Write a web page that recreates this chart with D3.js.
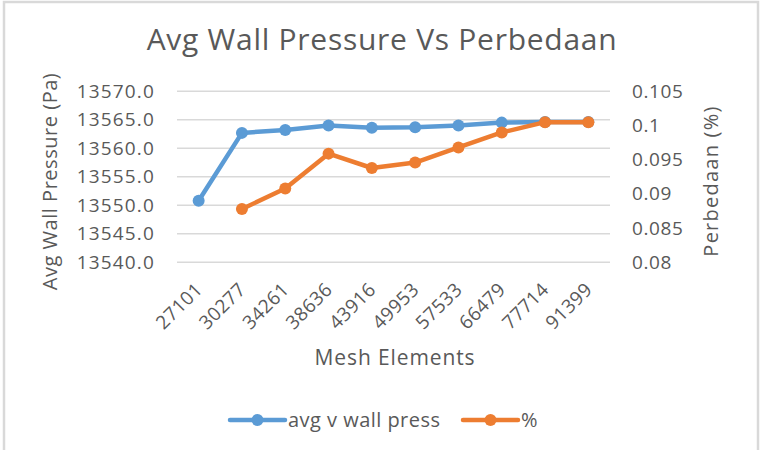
<!DOCTYPE html>
<html>
<head>
<meta charset="utf-8">
<script src="https://cdn.jsdelivr.net/npm/d3@7"></script>
<style>
  html, body { margin: 0; padding: 0; background: #fff; }
  svg { display: block; font-family: "Open Sans", "Noto Sans", sans-serif; }
</style>
</head>
<body>
<svg id="chart" width="763" height="450"></svg>
<script>
// Mesh refinement study: averaged wall pressure and relative difference
const categories = ["27101", "30277", "34261", "38636", "43916", "49953", "57533", "66479", "77714", "91399"];
const pressure = [13550.7, 13562.6, 13563.1, 13563.9, 13563.5, 13563.6, 13563.9, 13564.4, 13564.5, 13564.5];
const perbedaan = [null, 0.0877, 0.0907, 0.0958, 0.0937, 0.0945, 0.0967, 0.0989, 0.1004, 0.1004];
const leftTicks = [13540, 13545, 13550, 13555, 13560, 13565, 13570];
const rightTicks = [0.08, 0.085, 0.09, 0.095, 0.1, 0.105];
const seriesNames = ["avg v wall press", "%"];

const colors = { blue: "#5B9BD5", orange: "#ED7D31", text: "#595959", grid: "#d9d9d9" };
const FONT = '"Open Sans", "Noto Sans", sans-serif';

const svg = d3.select("#chart");
const plot = { left: 177, right: 610, top: 90.7, bottom: 261.7 };

// outer chart frame
svg.append("rect")
  .attr("x", 4).attr("y", 2).attr("width", 754).attr("height", 470)
  .attr("fill", "#fff").attr("stroke", colors.grid).attr("stroke-width", 2.5);

const x = d3.scaleBand().domain(categories).range([plot.left, plot.right]).padding(0);
const yL = d3.scaleLinear().domain([13540, 13570]).range([plot.bottom, plot.top]);
const yR = d3.scaleLinear().domain([0.08, 0.105]).range([plot.bottom, plot.top]);
const cx = c => x(c) + x.bandwidth() / 2;

// helper: stretch letter spacing so a label spans a given width
function fitWidth(sel, target) {
  sel.each(function () {
    const t = d3.select(this);
    const n = t.text().length;
    const w = this.getComputedTextLength();
    if (n > 1) t.attr("letter-spacing", ((target - w) / (n - 1)).toFixed(2) + "px");
  });
}

// title
svg.append("text")
  .attr("x", 382).attr("y", 50).attr("text-anchor", "middle")
  .attr("font-size", 30).attr("fill", colors.text)
  .text("Avg Wall Pressure Vs Perbedaan")
  .call(fitWidth, 470);

// horizontal gridlines (left axis)
const gridAxis = d3.axisLeft(yL).tickValues(leftTicks).tickSize(-(plot.right - plot.left)).tickFormat("");
const gridG = svg.append("g").attr("transform", `translate(${plot.left},0)`).call(gridAxis);
gridG.select(".domain").remove();
gridG.selectAll("line").attr("stroke", colors.grid).attr("stroke-width", 1.5);

// left axis labels
const leftAxis = d3.axisLeft(yL).tickValues(leftTicks).tickSize(0).tickPadding(22).tickFormat(d3.format(".1f"));
const lg = svg.append("g").attr("transform", `translate(${plot.left},0)`).call(leftAxis)
  .attr("font-family", FONT).attr("font-size", 19);
lg.select(".domain").remove();
lg.selectAll("text").attr("fill", colors.text).attr("dy", "0.35em").call(fitWidth, 77);

// right axis labels
const rightAxis = d3.axisRight(yR).tickValues(rightTicks).tickSize(0).tickPadding(22).tickFormat(d => String(d));
const rg = svg.append("g").attr("transform", `translate(${plot.right},0)`).call(rightAxis)
  .attr("font-family", FONT).attr("font-size", 19);
rg.select(".domain").remove();
rg.selectAll("text").attr("fill", colors.text).attr("dy", "0.35em").attr("letter-spacing", "0.6px");

// category axis labels, rotated
const bottomAxis = d3.axisBottom(x).tickSize(0).tickPadding(0);
const bg = svg.append("g").attr("transform", `translate(0,${plot.bottom})`).call(bottomAxis)
  .attr("font-family", FONT).attr("font-size", 19);
bg.select(".domain").remove();
bg.selectAll("text")
  .attr("fill", colors.text)
  .attr("text-anchor", "end").attr("dy", null).attr("y", 0)
  .attr("letter-spacing", "0.4px")
  .attr("transform", "translate(5,29) rotate(-45)");

// axis titles
svg.append("text")
  .attr("transform", `translate(57,181.5) rotate(-90)`)
  .attr("text-anchor", "middle").attr("font-size", 20).attr("fill", colors.text)
  .text("Avg Wall Pressure (Pa)")
  .call(fitWidth, 217);
svg.append("text")
  .attr("transform", `translate(718,181) rotate(-90)`)
  .attr("text-anchor", "middle").attr("font-size", 20).attr("fill", colors.text)
  .text("Perbedaan (%)")
  .call(fitWidth, 150);
svg.append("text")
  .attr("x", 395).attr("y", 365).attr("text-anchor", "middle")
  .attr("font-size", 21).attr("fill", colors.text)
  .text("Mesh Elements")
  .call(fitWidth, 160);

// series
const series = [
  { name: seriesNames[0], values: pressure, y: yL, color: colors.blue },
  { name: seriesNames[1], values: perbedaan, y: yR, color: colors.orange }
];

series.forEach(s => {
  const pts = categories.map((c, i) => ({ c, v: s.values[i] })).filter(d => d.v != null);
  const line = d3.line().x(d => cx(d.c)).y(d => s.y(d.v));
  const g = svg.append("g");
  g.append("path").datum(pts).attr("d", line)
    .attr("fill", "none").attr("stroke", s.color).attr("stroke-width", 4.5)
    .attr("stroke-linejoin", "round").attr("stroke-linecap", "round");
  g.selectAll("circle").data(pts).join("circle")
    .attr("cx", d => cx(d.c)).attr("cy", d => s.y(d.v)).attr("r", 6)
    .attr("fill", s.color);
});

// legend
const legendItems = [
  { x: 230, label: seriesNames[0], color: colors.blue, width: 152 },
  { x: 463, label: seriesNames[1], color: colors.orange, width: 0 }
];
const leg = svg.append("g").attr("transform", "translate(0,420)");
legendItems.forEach(it => {
  leg.append("line").attr("x1", it.x).attr("x2", it.x + 55).attr("y1", 0).attr("y2", 0)
    .attr("stroke", it.color).attr("stroke-width", 4.5).attr("stroke-linecap", "round");
  leg.append("circle").attr("cx", it.x + 27.5).attr("cy", 0).attr("r", 6).attr("fill", it.color);
  const t = leg.append("text").attr("x", it.x + 58).attr("y", 0).attr("dy", "0.35em")
    .attr("font-size", 20).attr("fill", colors.text).text(it.label);
  if (it.width) t.call(fitWidth, it.width);
});
</script>
</body>
</html>
